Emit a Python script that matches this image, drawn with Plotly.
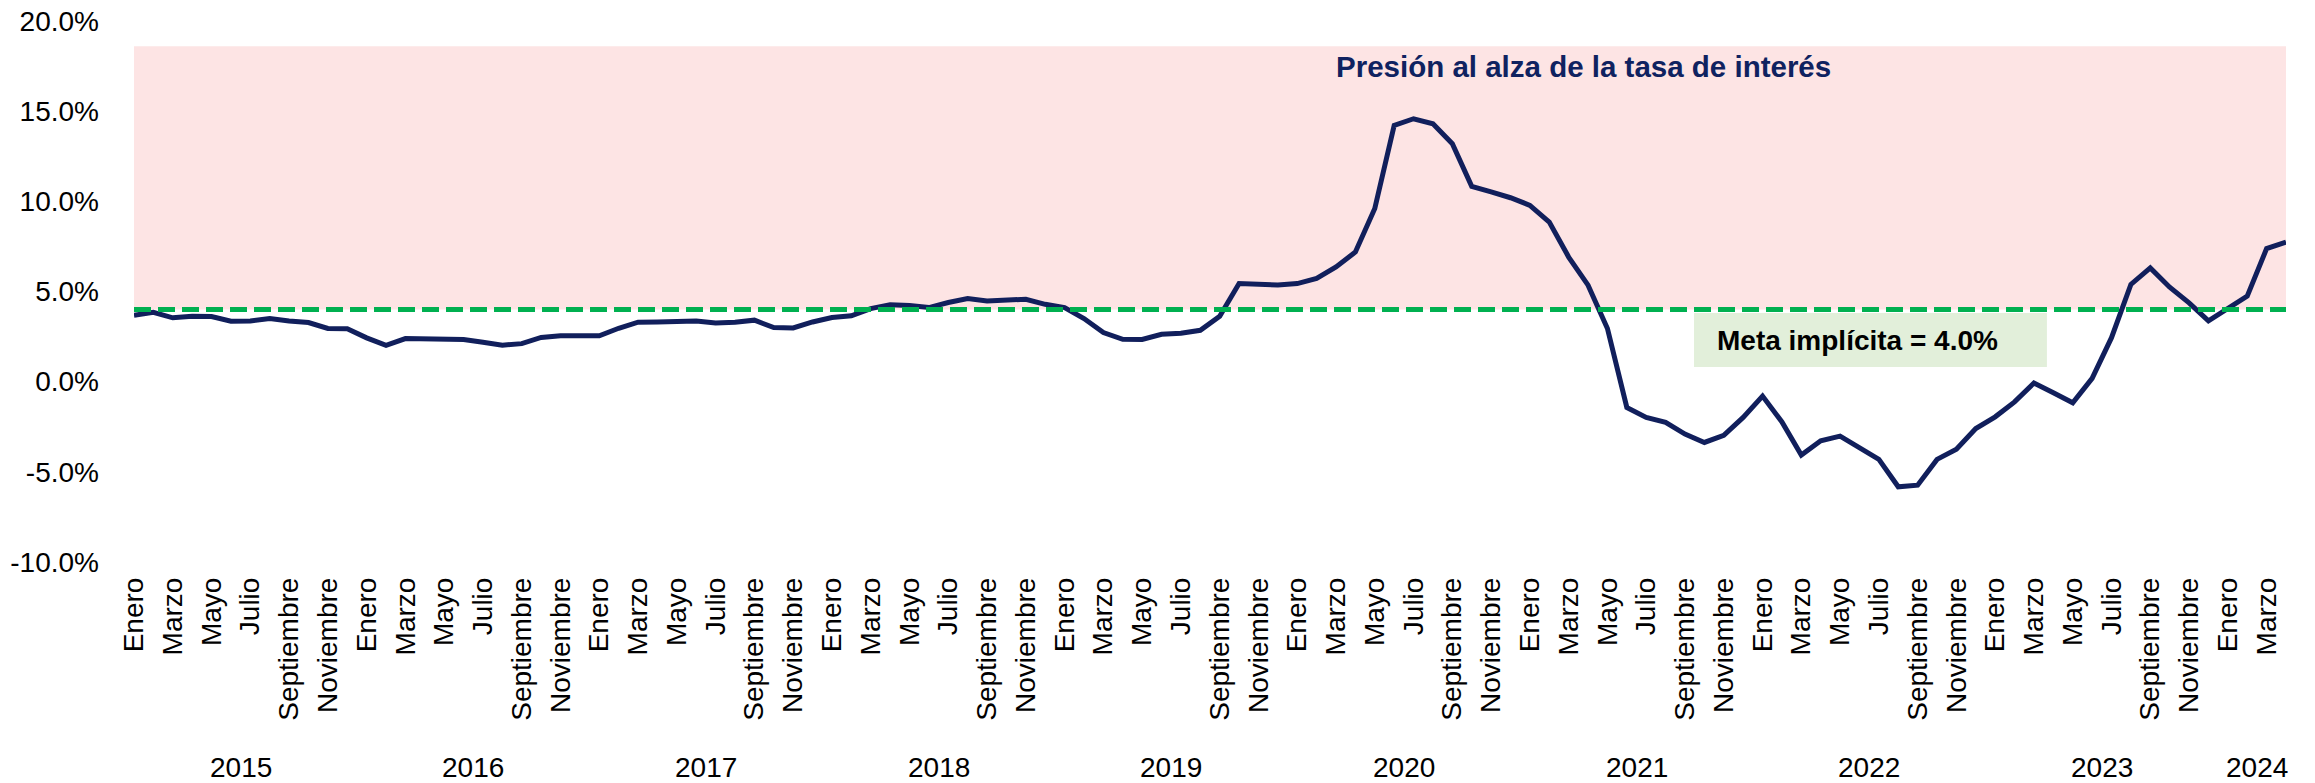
import plotly.graph_objects as go

# ---------------- data ----------------
month_names = ["Enero", "Febrero", "Marzo", "Abril", "Mayo", "Junio",
               "Julio", "Agosto", "Septiembre", "Octubre", "Noviembre", "Diciembre"]
start_year = 2015

values = [
    3.68, 3.85, 3.54, 3.63, 3.61, 3.35, 3.37, 3.50, 3.37, 3.28, 2.95, 2.93,   # 2015
    2.43, 2.02, 2.39, 2.39, 2.34, 2.34, 2.19, 2.02, 2.11, 2.45, 2.54, 2.52,   # 2016
    2.54, 2.96, 3.30, 3.31, 3.35, 3.37, 3.26, 3.30, 3.41, 3.00, 2.98, 3.31,   # 2017
    3.56, 3.65, 4.05, 4.27, 4.22, 4.11, 4.39, 4.61, 4.48, 4.53, 4.57, 4.29,   # 2018
    4.11, 3.50, 2.72, 2.35, 2.34, 2.63, 2.69, 2.85, 3.63, 5.44, 5.38, 5.36,   # 2019
    5.44, 5.72, 6.36, 7.19, 9.60, 14.21, 14.58, 14.30, 13.20, 10.83, 10.52, 10.20,  # 2020
    9.78, 8.85, 6.91, 5.35, 2.95, -1.43, -1.98, -2.26, -2.91, -3.37, -2.97, -1.98,  # 2021
    -0.80, -2.23, -4.07, -3.28, -3.02, -3.70, -4.31, -5.83, -5.74, -4.31, -3.75, -2.60,  # 2022
    -1.95, -1.12, -0.07, -0.62, -1.17, 0.18, 2.44, 5.39, 6.31, 5.24, 4.37, 3.37,  # 2023
    4.06, 4.74, 7.38, 7.74,                                                   # 2024
]

meta_implicita = 4.0
zona_presion_top = 18.6

y_tick_vals = [-10, -5, 0, 5, 10, 15, 20]
y_tick_text = ["-10.0%", "-5.0%", "0.0%", "5.0%", "10.0%", "15.0%", "20.0%"]

title_text = "Presión al alza de la tasa de interés"
meta_text = "Meta implícita = 4.0%"

# ---------------- derived ----------------
n = len(values)
x = list(range(n))
month_of = [month_names[i % 12] for i in x]
year_of = [start_year + i // 12 for i in x]

tick_vals = [i for i in x if i % 2 == 0]
tick_text = [month_of[i] for i in tick_vals]

years = sorted(set(year_of))
year_centers = [sum(i for i in x if year_of[i] == yv) / sum(1 for i in x if year_of[i] == yv) for yv in years]

FONT = "Liberation Sans, Arial, sans-serif"
NAVY = "#111f5c"

fig = go.Figure()

# pressure zone (pink)
fig.add_shape(type="rect", xref="x", yref="y", x0=x[0], x1=x[-1],
              y0=meta_implicita, y1=zona_presion_top,
              fillcolor="#fde4e4", line=dict(width=0), layer="below")

fig.add_trace(go.Scatter(x=x, y=values, mode="lines",
                         line=dict(color=NAVY, width=5), hoverinfo="skip",
                         showlegend=False))

fig.add_trace(go.Scatter(x=[x[0], x[-1]], y=[meta_implicita, meta_implicita], mode="lines",
                         line=dict(color="#00b050", width=5, dash="17px,7px"),
                         hoverinfo="skip", showlegend=False))

# meta label box
fig.add_shape(type="rect", xref="paper", yref="paper",
              x0=0.7249, x1=0.8889, y0=0.3604, y1=0.4603,
              fillcolor="#e2efda", line=dict(width=0), layer="above")
fig.add_annotation(xref="paper", yref="paper", x=0.7346, y=0.41,
                   xanchor="left", yanchor="middle", showarrow=False,
                   text="<b>" + meta_text + "</b>",
                   font=dict(family=FONT, size=28, color="#000000"))

fig.add_annotation(xref="paper", yref="paper", x=0.6737, y=0.915,
                   xanchor="center", yanchor="middle", showarrow=False,
                   text="<b>" + title_text + "</b>",
                   font=dict(family=FONT, size=29.5, color="#0f2260"))

for yv, xc in zip(years, year_centers):
    fig.add_annotation(xref="x", yref="paper", x=xc, y=0, yshift=-205,
                       xanchor="center", yanchor="middle", showarrow=False,
                       text=str(yv), font=dict(family=FONT, size=28, color="#000000"))

fig.update_layout(
    width=2315, height=783,
    margin=dict(l=134, r=29, t=21, b=221, pad=0),
    paper_bgcolor="white", plot_bgcolor="white",
    font=dict(family=FONT, size=28, color="#000000"),
    showlegend=False,
)
fig.update_xaxes(range=[x[0], x[-1]], tickmode="array", tickvals=tick_vals, ticktext=tick_text,
                 tickangle=-90, showgrid=False, zeroline=False, showline=False,
                 ticks="", ticklabelstandoff=9, automargin=False,
                 tickfont=dict(family=FONT, size=28, color="#000000"))
fig.update_yaxes(range=[-10, 20], tickmode="array", tickvals=y_tick_vals, ticktext=y_tick_text,
                 showgrid=False, zeroline=False, showline=False, ticks="",
                 ticklabelstandoff=34, automargin=False, ticklabeloverflow="allow",
                 tickfont=dict(family=FONT, size=28, color="#000000"))

# remove the browser's default 8px body margin so the figure sits at the page origin
fig.write_html("out.html",
               config={"displayModeBar": False},
               post_script="document.body.style.margin='0';document.body.style.overflow='hidden';")
